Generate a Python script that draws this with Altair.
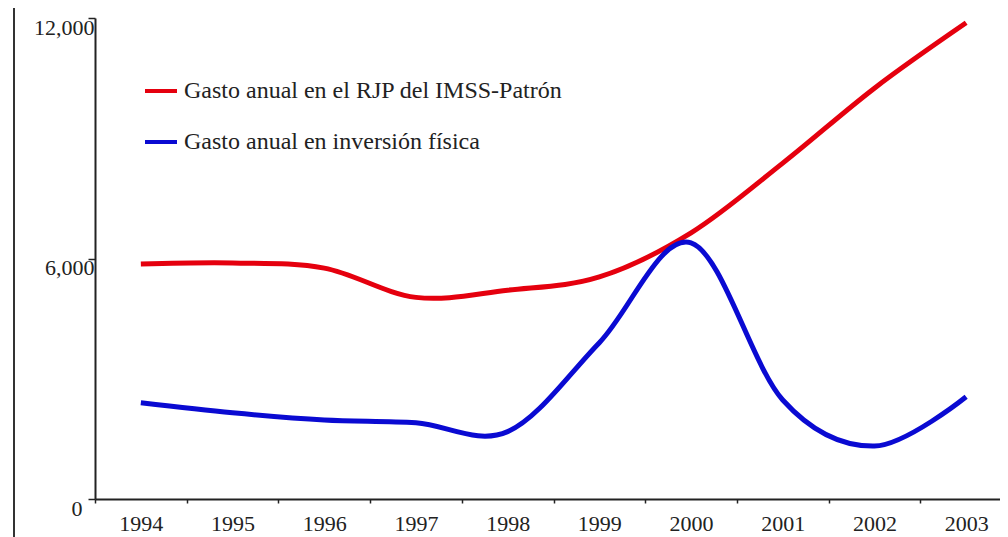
import altair as alt
import pandas as pd

years = ["1994", "1995", "1996", "1997", "1998", "1999", "2000", "2001", "2002", "2003"]
serie_rjp = "Gasto anual en el RJP del IMSS-Patrón"
serie_inv = "Gasto anual en inversión física"
rjp = [5860, 5890, 5760, 5030, 5210, 5540, 6640, 8380, 10250, 11880]
inv = [2400, 2150, 1970, 1900, 1680, 3900, 6390, 2470, 1320, 2550]
y_ticks = [0, 6000, 12000]
series = [serie_rjp, serie_inv]
colors = ["#e5000e", "#0a0ad2"]

rows = []
for y, v in zip(years, rjp):
    rows.append({"year": y, "serie": serie_rjp, "value": v})
for y, v in zip(years, inv):
    rows.append({"year": y, "serie": serie_inv, "value": v})
df = pd.DataFrame(rows)

W, H = 900, 481
SERIF = "Liberation Serif"

lines = alt.Chart(df).mark_line(strokeWidth=5, interpolate="cardinal").encode(
    x=alt.X(
        "year:O",
        sort=years,
        bandPosition=0.5,
        scale=alt.Scale(type="band", range=[0, 917], paddingInner=0, paddingOuter=0),
        axis=alt.Axis(
            title=None,
            labelAngle=0,
            tickBand="extent",
            tickSize=4,
            labelPadding=10,
        ),
    ),
    y=alt.Y(
        "value:Q",
        scale=alt.Scale(domain=[0, 12000], nice=False),
        axis=alt.Axis(
            title=None,
            values=y_ticks,
            labelExpr="format(datum.value, ',d')",
            labelFont=SERIF,
            labelFontSize=22,
            tickSize=7,
            labelPadding={"condition": {"test": "datum.value == 0", "value": 6}, "value": -6},
            labelOffset=9,
        ),
    ),
    color=alt.Color(
        "serie:N",
        sort=series,
        scale=alt.Scale(domain=series, range=colors),
        legend=alt.Legend(
            title=None,
            labelFont=SERIF,
            labelFontSize=24,
            labelColor="#222",
            labelLimit=0,
        ),
    ),
)

border = alt.Chart(pd.DataFrame({"b": [0]})).mark_rule(color="#333", strokeWidth=2).encode(
    x=alt.value(-81), y=alt.value(-12), y2=alt.value(540)
)

chart = alt.layer(border, lines).properties(
    width=W,
    height=H,
    background="white",
    autosize=alt.AutoSizeParams(type="none"),
    padding={"left": 87, "top": 10, "right": 5, "bottom": 38},
).configure_view(stroke=None).configure_axis(
    grid=False,
    domainColor="#222",
    domainWidth=2,
    tickColor="#222",
    tickWidth=1.5,
    labelColor="#222",
    labelFont=SERIF,
    labelFontSize=22,
).configure_legend(
    orient="none",
    legendX=48,
    legendY=55,
    symbolType="stroke",
    symbolSize=1024,
    symbolStrokeWidth=4,
    labelFont=SERIF,
    labelFontSize=24,
    labelColor="#222",
    labelOffset=5,
    labelLimit=0,
    rowPadding=21,
)

chart.save("out.html", embed_options={"renderer": "svg", "actions": False})
